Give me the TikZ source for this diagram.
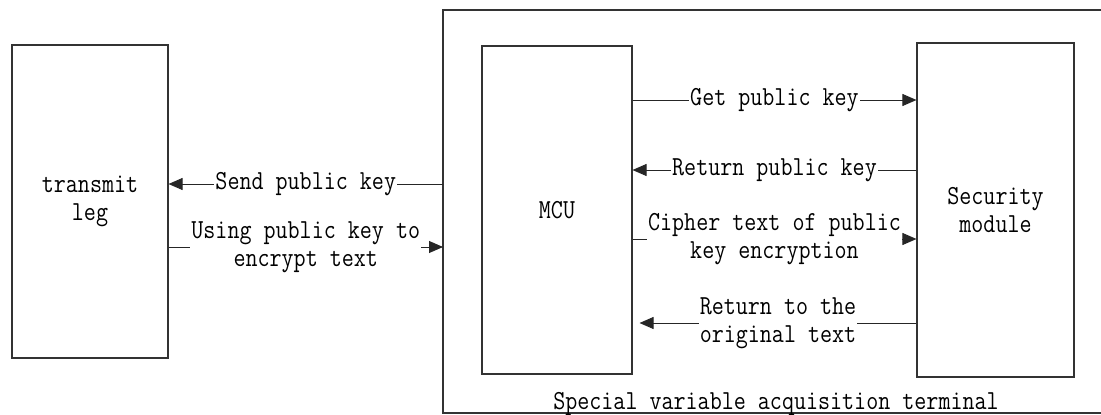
\documentclass[tikz,border=0pt]{standalone}
\usepackage{fontspec}
\setmonofont[FakeStretch=0.85]{Latin Modern Mono}
\usepackage{tikz}
\usetikzlibrary{arrows.meta,positioning}
\tikzstyle{block} = [draw=black!80,line width=1.1pt,rectangle,inner sep=0,align=center]
\tikzstyle{lbl} = [fill=white,inner sep=1pt,align=center]
\tikzstyle{arr} = [draw=black!85,line width=0.9pt,-{Triangle[length=14pt,width=12pt]}]
\tikzset{x=1pt, y=-1pt, font=\ttfamily\fontsize{27.5}{28}\selectfont}

\begin{document}
\begin{tikzpicture}
\useasboundingbox (0,0) rectangle (1101,415);

\node[block, minimum width=156pt, minimum height=313pt] (tx) at (90,201.5) {transmit\\leg};
\node[block, minimum width=150pt, minimum height=328pt] (mcu) at (557,210) {MCU};
\node[block, minimum width=157pt, minimum height=334pt] (sec) at (995.5,210) {Security\\module};

% terminal frame, cut off at the right edge
\coordinate (term nw) at (443,10);
\coordinate (term sw) at (443,413);
\draw[black!80,line width=1.1pt] (1101,10) -- (term nw) -- (term sw) -- (1101,413);
\node[anchor=base] (term) at (776,409) {Special variable acquisition terminal};

\draw[arr] (term nw |- 0,184) -- node[lbl] {Send public key} (tx.east |- 0,184);
\draw[arr] (tx.east |- 0,247) -- node[lbl] {Using public key to\\encrypt text} (term nw |- 0,247);

\coordinate[right=7pt of mcu.east] (mcu gap);
\draw[arr] (mcu.east |- 0,100) -- node[lbl] {Get public key} (sec.west |- 0,100);
\draw[arr] (sec.west |- 0,170) -- node[lbl] {Return public key} (mcu.east |- 0,170);
\draw[arr] (mcu.east |- 0,239) -- node[lbl] {Cipher text of public\\key encryption} (sec.west |- 0,239);
\draw[arr] (sec.west |- 0,323) -- node[lbl] {Return to the\\original text} (mcu gap |- 0,323);
\end{tikzpicture}
\end{document}
